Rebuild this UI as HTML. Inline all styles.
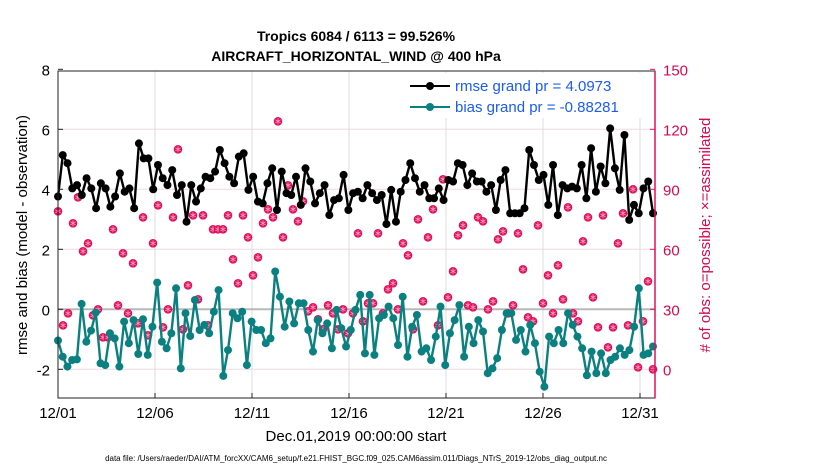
<!DOCTYPE html>
<html><head><meta charset="utf-8"><style>
body{margin:0;background:#fff;}
svg{display:block;font-family:"Liberation Sans",sans-serif;}
</style></head><body>
<svg id="chart" width="830" height="470">
<text x="356" y="41" text-anchor="middle" font-size="14" font-weight="bold">Tropics 6084 / 6113 = 99.526%</text>
<text x="356" y="61" text-anchor="middle" font-size="14" font-weight="bold">AIRCRAFT_HORIZONTAL_WIND @ 400 hPa</text>
<g id="grid"></g>
<g id="marks"></g>
<g id="axes"></g>
<text transform="translate(27,235) rotate(-90)" text-anchor="middle" font-size="15">rmse and bias (model - observation)</text>
<text transform="translate(710,235) rotate(-90)" text-anchor="middle" font-size="15" fill="#d6094f"># of obs: o=possible; ×=assimilated</text>
<text x="356" y="441" text-anchor="middle" font-size="15">Dec.01,2019 00:00:00 start</text>
<text x="356" y="461" text-anchor="middle" font-size="8">data file: /Users/raeder/DAI/ATM_forcXX/CAM6_setup/f.e21.FHIST_BGC.f09_025.CAM6assim.011/Diags_NTrS_2019-12/obs_diag_output.nc</text>
<g>
<rect x="405" y="73" width="248" height="45" fill="#fff" stroke="none"/>
<line x1="410" y1="86" x2="450" y2="86" stroke="#000" stroke-width="2"/>
<circle cx="430" cy="86" r="4" fill="#000"/>
<text x="455" y="91" font-size="15" fill="#1a5cf0">rmse grand pr = 4.0973</text>
<line x1="410" y1="107" x2="450" y2="107" stroke="#0b8080" stroke-width="2"/>
<circle cx="430" cy="107" r="4" fill="#0b8080"/>
<text x="455" y="112" font-size="15" fill="#1a5cf0">bias grand pr = -0.88281</text>
</g>
</svg>
<script>
const rmse=[3.76,5.14,4.87,4.03,4.14,3.81,4.37,4.03,3.37,4.2,4.03,3.42,3.76,4.53,3.92,4.03,3.37,5.53,5.03,5.03,4.0,4.81,4.37,4.14,4.64,3.81,4.14,2.92,4.14,3.59,4.03,4.42,
4.37,4.59,5.31,4.87,4.42,4.2,5.09,5.2,3.98,4.42,3.59,3.53,4.2,4.7,3.31,4.59,3.87,3.81,4.42,3.48,4.7,4.26,3.53,3.87,4.14,3.14,3.64,3.7,4.48,3.31,3.87,3.92,3.7,4.14,
3.87,3.64,3.81,2.84,3.98,2.92,3.92,4.31,4.87,4.37,3.92,4.14,3.7,3.7,4.03,3.64,4.31,4.26,4.87,4.81,4.14,4.53,4.26,4.26,3.92,4.14,3.31,4.31,4.64,3.2,
3.2,3.2,3.37,5.31,4.81,4.31,4.48,3.48,4.81,3.14,4.14,4.03,4.09,4.03,4.81,3.7,5.37,3.92,4.76,4.2,6.03,4.7,3.98,5.81,2.98,3.48,3.2,4.03,4.26,3.2];
const bias=[-1.04,-1.58,-1.91,-1.69,-1.67,0.18,-1.08,-0.71,-0.11,-1.8,-1.86,-0.8,-0.97,-1.91,-0.41,-1.13,-0.36,-1.49,-0.33,-1.52,-0.58,0.89,-1.08,-1.3,-0.8,0.7,-1.97,-0.13,-0.89,0.31,-0.69,-0.52,
-0.8,-0.08,0.64,-2.22,-1.36,-0.13,-0.3,-0.08,-1.86,-0.41,-0.69,-0.69,-1.13,-0.97,1.26,0.42,-0.58,0.26,-0.47,0.2,0.2,-0.69,-1.41,-0.36,-0.8,-0.47,-1.3,-0.02,-0.63,-1.24,-0.69,-0.02,0.48,-1.47,
0.48,-1.52,-0.3,-0.19,0.09,-0.3,-1.19,0.42,-1.58,-0.58,-0.19,-1.41,-1.3,-1.69,-0.91,0.09,-1.86,-0.8,-0.36,0.14,-1.58,-0.58,-1.13,-0.36,-0.74,-2.13,-1.97,-1.63,-0.69,-0.13,
-0.13,-1.02,-0.69,-1.41,-0.52,-1.13,-2.08,-2.58,-0.91,-1.13,-0.69,-1.13,-0.13,-0.52,-0.91,-1.3,-2.2,-1.41,-2.13,-1.47,-2.13,-1.69,-1.58,-1.3,-1.52,-1.36,-0.58,0.7,-1.52,-1.47,-1.24];
const obsCount=[79,22,28,73,86,59,63,27,30,16,16,70,32,58,28,53,23,76,17,63,82,21,30,76,110,20,42,77,35,77,22,70,
70,70,77,55,43,77,66,47,56,73,80,76,124,66,92,80,74,84,29,31,25,20,32,28,20,30,18,28,68,24,33,
33,68,28,40,43,30,63,57,20,75,34,66,80,22,95,36,49,67,72,32,31,76,74,30,34,65,69,28,
32,68,50,26,24,72,33,47,28,52,35,81,28,24,64,76,36,21,77,11,21,63,78,22,90,1,24,44,0];
const yTicks=[8,6,4,2,0,-2];
const rTicks=[150,120,90,60,30,0];
const xTickDays=[1,6,11,16,21,26,31];
const xTickLabels=["12/01","12/06","12/11","12/16","12/21","12/26","12/31"];

const NS="http://www.w3.org/2000/svg";
const L=58,R=655,T=71,B=398;
const xDay=d=>L+(d-1)*19.4;
const yL=v=>309.3-v*30;
const yR=v=>369.3-v*2;
const xIdx=(i,n)=>L+i*(653-L)/(n-1);
function mk(tag,attrs,parent){const e=document.createElementNS(NS,tag);for(const k in attrs)e.setAttribute(k,attrs[k]);parent.appendChild(e);return e;}
const grid=document.getElementById('grid'),marks=document.getElementById('marks'),axes=document.getElementById('axes');
mk('rect',{x:L,y:T,width:R-L,height:B-T,fill:'#fff'},grid);
yTicks.forEach(v=>{if(v!==0&&v!==8)mk('line',{x1:L,x2:R,y1:yL(v),y2:yL(v),stroke:'#f0d8e2','stroke-width':1},grid);});
xTickDays.forEach(d=>{if(d>1)mk('line',{x1:xDay(d),x2:xDay(d),y1:T,y2:B,stroke:'#dcdcdc','stroke-width':1},grid);});
mk('line',{x1:L,x2:R,y1:yL(0),y2:yL(0),stroke:'#b8b8b8','stroke-width':2},grid);

function star(g,cx,cy,col){for(let a=0;a<3;a++){const an=a*Math.PI/3+Math.PI/2;mk('line',{x1:cx-3*Math.cos(an),y1:cy-3*Math.sin(an),x2:cx+3*Math.cos(an),y2:cy+3*Math.sin(an),stroke:col,'stroke-width':0.8},g);}}
const gObs=mk('g',{},marks);


obsCount.forEach((v,i)=>{const x=xIdx(i,obsCount.length),y=yR(v);
 const c=mk('circle',{cx:x,cy:y,r:3.8,fill:'#e0105a',stroke:'#e0105a','stroke-width':1},gObs);
 
 
 star(gObs,x,y,'#f9a8c6');});
function series(vals,col,name){
 const g=mk('g',{},marks);
 
 
 const pts=vals.map((v,i)=>xIdx(i,vals.length).toFixed(1)+','+yL(v).toFixed(1)).join(' ');
 mk('polyline',{points:pts,fill:'none',stroke:col,'stroke-width':2.4,'stroke-linejoin':'round'},g);
 vals.forEach((v,i)=>{const c=mk('circle',{cx:xIdx(i,vals.length),cy:yL(v),r:4,fill:col},g);
  
  });
}
series(rmse,'#000','rmse-series');
series(bias,'#0b8080','bias-series');
mk('rect',{x:L,y:T,width:R-L,height:B-T,fill:'none',stroke:'#222','stroke-width':1},axes);
mk('line',{x1:R,x2:R,y1:T,y2:B,stroke:'#e0115f','stroke-width':1.5},axes);
yTicks.forEach(v=>{mk('line',{x1:L,x2:L+5,y1:yL(v),y2:yL(v),stroke:'#222'},axes);
 const t=mk('text',{x:L-8,y:yL(v)+6,'text-anchor':'end','font-size':15},axes);t.textContent=v;
 
 });
rTicks.forEach(v=>{mk('line',{x1:R-5,x2:R,y1:yR(v),y2:yR(v),stroke:'#e0115f'},axes);
 const t=mk('text',{x:R+8,y:yR(v)+6,'font-size':15,fill:'#d6094f'},axes);t.textContent=v;
 
 });
xTickDays.forEach((d,i)=>{mk('line',{x1:xDay(d),x2:xDay(d),y1:B,y2:B-5,stroke:'#222'},axes);
 const t=mk('text',{x:xDay(d),y:B+20,'text-anchor':'middle','font-size':15},axes);t.textContent=xTickLabels[i];
 
 });
</script>
</body></html>
